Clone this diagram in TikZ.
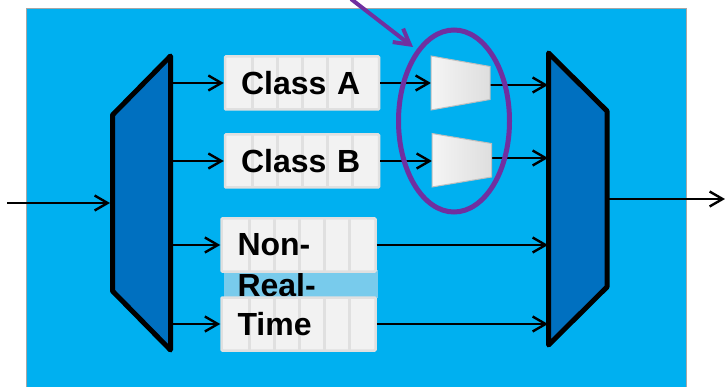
\documentclass[tikz,border=0pt]{standalone}
\usepackage{fontspec}
\setmainfont{Liberation Sans}
\usetikzlibrary{arrows.meta,shapes.geometric}
\definecolor{panelblue}{HTML}{00B0F0}
\definecolor{muxblue}{HTML}{0070C0}
\definecolor{ringpurple}{HTML}{7030A0}
\definecolor{cellline}{HTML}{E0E0E0}
\definecolor{cellfill}{HTML}{F2F2F2}
\definecolor{bandblue}{HTML}{78CBEC}
\tikzset{>={Straight Barb[length=13pt,width=15pt,line width=2.4pt]}}
\tikzset{link/.style = {->,line width=2.4pt,black}}
\tikzset{mux/.style = {draw=black,fill=muxblue,line width=5pt,line join=round}}
\tikzset{smallmux/.style = {draw=black!25,line width=1pt,left color=white!96!black,right color=white!87!black}}
\tikzset{qtext/.style = {font=\bfseries\fontsize{32}{32}\selectfont,text=black}}
\tikzset{queue/.style = {qtext,draw=cellline,fill=cellfill,line width=2.5pt,rounded corners=1pt,
    minimum height=53pt,minimum width=154pt,inner xsep=16pt,text width=122pt,align=left,
    path picture={\foreach \i in {1,...,5}
        \draw[cellline,line width=3pt] ([xshift=\i*25pt+2.5pt]path picture bounding box.north west)
            -- ([xshift=\i*25pt+2.5pt]path picture bounding box.south west);}}}

\begin{document}
\begin{tikzpicture}[x=1pt,y=-1pt]
    \useasboundingbox (0,0) rectangle (725,387);

    % Panel
    \fill[panelblue] (26,9) rectangle (686,387);
    \draw[black!35,line width=1pt] (26,387) -- (26,9) -- (686,9) -- (686,387);

    % Band behind the last queues
    \fill[bandblue] (224,270) rectangle (378,298);
    \node[qtext,anchor=west] (real) at (234,285) {Real-};

    % Queues
    \node[queue] (classA) at (302,83) {Class A};
    \node[queue] (classB) at (302,161) {Class B};
    \node[queue] (nonrt) at (298.5,245) {Non-};
    \node[queue] (timeq) at (298.5,324) {\raisebox{-1pt}{Time}};

    % Ends of the links
    \coordinate (lmuxin) at (110,203);
    \coordinate (lmuxout) at (172,0);
    \coordinate (rmuxin) at (548,0);
    \coordinate (rmuxout) at (609,199);
    \coordinate (inport) at (7,203);
    \coordinate (outport) at (725,199);
    \coordinate (smallAin) at (431,83);
    \coordinate (smallAout) at (490,85);
    \coordinate (smallBin) at (432,161);
    \coordinate (smallBout) at (492,158);

    % Links
    \draw[link] (inport) to (lmuxin);
    \foreach \q in {classA,classB,nonrt,timeq}
        \draw[link] (\q.west -| lmuxout) to (\q.west);
    \draw[link] (classA.east) to (smallAin);
    \draw[link] (classB.east) to (smallBin);
    \draw[link] (smallAout) to (smallAout -| rmuxin);
    \draw[link] (smallBout) to (smallBout -| rmuxin);
    \draw[link] (nonrt.east) to (nonrt.east -| rmuxin);
    \draw[link] (timeq.east) to (timeq.east -| rmuxin);
    \draw[link] (rmuxout) to (outport);

    % Muxes
    \draw[mux] (112.5,115) -- (170.5,56) -- (170.5,350) -- (112.5,291) -- cycle;
    \draw[mux] (548.5,53) -- (607,111) -- (607,287) -- (548.5,345) -- cycle;
    \draw[smallmux] (431,56) -- (490,66.5) -- (490,99.5) -- (431,110) -- cycle;
    \draw[smallmux] (432,133.5) -- (491.5,143.5) -- (491.5,177) -- (432,187) -- cycle;

    % Ring and pointer
    \coordinate (pointerstart) at (351,-1);
    \coordinate (pointertip) at (413,47);
    \node[draw=ringpurple,line width=5pt,ellipse,minimum width=111pt,minimum height=182pt,inner sep=0pt] (ring) at (454,121) {};
    \draw[-{Straight Barb[length=15pt,width=17pt,line width=4pt]},ringpurple,line width=4pt] (pointerstart) to (pointertip);
\end{tikzpicture}
\end{document}
